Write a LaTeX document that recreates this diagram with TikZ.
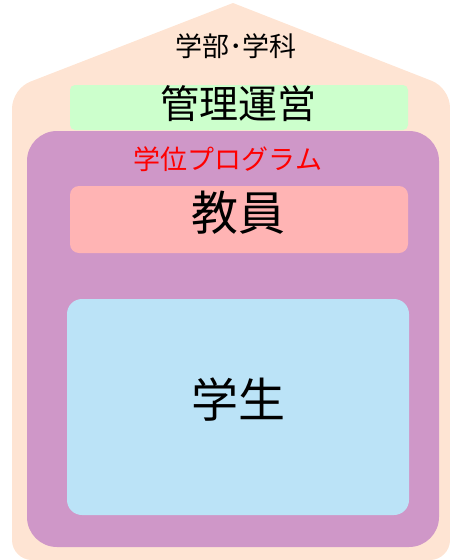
\documentclass[tikz,border=0pt]{standalone}
\usepackage{fontspec}
\setmainfont{Noto Sans CJK JP}
\definecolor{peach}{HTML}{FEE4D3}
\definecolor{mgreen}{HTML}{CCFFCC}
\definecolor{mpurple}{HTML}{CF97C8}
\definecolor{mpink}{HTML}{FFB4B4}
\definecolor{mblue}{HTML}{BBE3F7}
\tikzset{
  lbl/.style={inner sep=0pt, anchor=center, text=black},
}
\begin{document}
\begin{tikzpicture}[x=1pt,y=-1pt]
\useasboundingbox (0,0) rectangle (450,560);
% outer house shape
\fill[peach] (233,3) -- (431.4,80.7) .. controls (442,84.8) and (450,96) .. (450,108)
  -- (450,540) .. controls (450,551) and (441,560) .. (430,560)
  -- (32,560) .. controls (21,560) and (12,551) .. (12,540)
  -- (12,109) .. controls (12,97) and (20,85.5) .. (30.7,81.5) -- cycle;
\node[lbl, font=\fontsize{27}{27}\selectfont] (dept) at (236,46) {学部･学科};
% management
\fill[mgreen, rounded corners=5pt] (70,85) rectangle (408,130);
\node[lbl, font=\fontsize{39}{39}\selectfont] (mgmt) at (238,104) {管理運営};
% degree program
\fill[mpurple, rounded corners=30pt] (27,131) rectangle (439,547);
\node[lbl, text=red, font=\fontsize{27}{27}\selectfont] (prog) at (228,159) {学位プログラム};
% faculty
\fill[mpink, rounded corners=9pt] (70,186) rectangle (408,253);
\node[lbl, font=\fontsize{47}{47}\selectfont] (fac) at (238,213) {教員};
% students
\fill[mblue, rounded corners=15pt] (67,299) rectangle (409,515);
\node[lbl, font=\fontsize{47}{47}\selectfont] (stu) at (238,400) {学生};
\end{tikzpicture}
\end{document}
